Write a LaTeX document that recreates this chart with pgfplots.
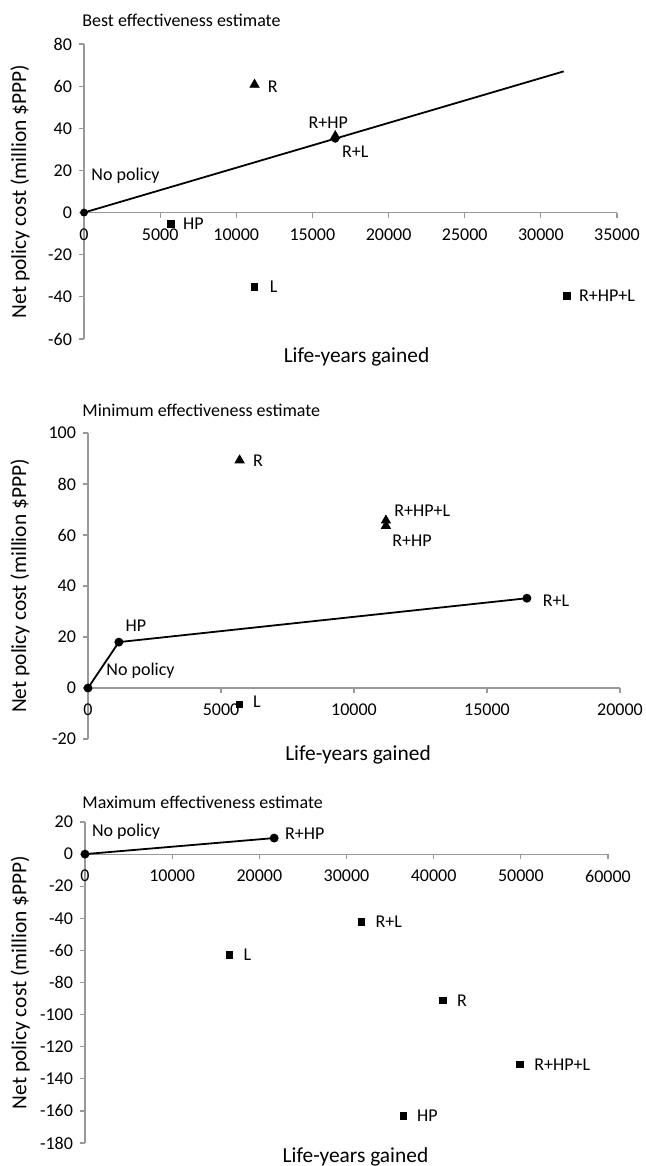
\documentclass[border=0pt]{standalone}
\usepackage{fontspec}
\setmainfont{Carlito}
\usepackage{pgfplots}
\pgfplotsset{compat=1.18}
\definecolor{axgray}{HTML}{999999}
\pgfplotsset{
  ceastyle/.style={
    scale only axis,
    axis lines=middle,
    axis line style={-, draw=axgray, line width=0.6pt},
    every tick/.style={draw=axgray, line width=0.6pt},
    tick align=outside,
    major tick length=2.5pt,
    hide obscured x ticks=false,
    hide obscured y ticks=false,
    scaled x ticks=false, scaled y ticks=false,
    /pgf/number format/assume math mode=true,
    /pgf/number format/set thousands separator={},
    tick label style={font=\fontsize{9}{11}\selectfont, text=black},
    xticklabel style={yshift=-2pt},
    xlabel style={font=\fontsize{10.7}{13}\selectfont, at={(axis description cs:0.5,0)}, anchor=center},
    ylabel style={font=\fontsize{10.7}{13}\selectfont, rotate=90, anchor=center},
    every axis title/.style={font=\fontsize{9}{11}\selectfont, at={(axis description cs:0,1)}, anchor=west, inner sep=0pt},
    clip=false,
    xlabel={Life-years gained},
    ylabel={Net policy cost (million \$PPP)},
  },
  circ/.style={only marks, mark=*, mark size=1.75pt, black},
  tri/.style={only marks, mark=triangle*, mark size=2.6pt, black},
  sq/.style={only marks, mark=square*, mark size=1.6pt, black},
  front/.style={black, line width=0.9pt, mark=*, mark size=1.75pt},
}
\tikzset{lab/.style={font=\fontsize{9}{11}\selectfont, inner sep=0pt, text=black}}
\begin{document}
\begin{tikzpicture}
\path[use as bounding box] (0,0) rectangle (323pt,-583pt);

% ---------- Panel 1: Best effectiveness estimate ----------
\begin{axis}[ceastyle,
  at={(42pt,-169.5pt)}, anchor=south west,
  width=266.5pt, height=147.5pt,
  xmin=0, xmax=35000, ymin=-60, ymax=80,
  xtick={0,5000,...,35000}, ytick={-60,-40,...,80},
  title={Best effectiveness estimate},
  title style={yshift=12pt, xshift=-1pt},
  xlabel style={yshift=-9pt, xshift=3pt},
  ylabel style={at={(axis description cs:-0.12,0.5)}},
]
\addplot[black, line width=0.9pt, mark=none] coordinates {(0,0) (31500,67)};
\addplot[circ] coordinates {(0,0) (16500,35)};
\addplot[tri] coordinates {(11200,60.7) (16500,36.3)};
\addplot[sq] coordinates {(5700,-5.4) (11200,-35.2) (31700,-39.5)};
\node[lab, anchor=west, xshift=3.5pt, yshift=18.5pt] at (axis cs:0,0) {No policy};
\node[lab, anchor=west, xshift=6.5pt, yshift=-1pt] at (axis cs:11200,60.7) {R};
\node[lab, anchor=center, xshift=-3.5pt, yshift=6.5pt] at (axis cs:16500,36.3) {R+HP};
\node[lab, anchor=center, xshift=10pt, yshift=-6.3pt] at (axis cs:16500,35) {R+L};
\node[lab, anchor=west, xshift=6pt] at (axis cs:5700,-5.4) {HP};
\node[lab, anchor=west, xshift=7.5pt] at (axis cs:11200,-35.2) {L};
\node[lab, anchor=west, xshift=6pt] at (axis cs:31700,-39.5) {R+HP+L};
\end{axis}

% ---------- Panel 2: Minimum effectiveness estimate ----------
\begin{axis}[ceastyle,
  at={(44pt,-369.5pt)}, anchor=south west,
  width=266pt, height=153pt,
  xmin=0, xmax=20000, ymin=-20, ymax=100,
  xtick={0,5000,...,20000}, ytick={-20,0,...,100},
  title={Minimum effectiveness estimate},
  title style={yshift=11.5pt, xshift=-3pt},
  xlabel style={yshift=-8pt, xshift=2pt},
  ylabel style={at={(axis description cs:-0.128,0.5)}},
]
\addplot[front] coordinates {(0,0) (1160,18) (16500,35.2)};
\addplot[tri] coordinates {(5700,89.3) (11200,65.7) (11200,63.6)};
\addplot[sq] coordinates {(5700,-6.4)};
\node[lab, anchor=west, xshift=9pt, yshift=8.5pt] at (axis cs:0,0) {No policy};
\node[lab, anchor=center, xshift=8.5pt, yshift=8pt] at (axis cs:1160,18) {HP};
\node[lab, anchor=west, xshift=7.75pt, yshift=-1.25pt] at (axis cs:16500,35.2) {R+L};
\node[lab, anchor=west, xshift=6.5pt] at (axis cs:5700,89.3) {R};
\node[lab, anchor=west, xshift=4pt, yshift=4.75pt] at (axis cs:11200,65.7) {R+HP+L};
\node[lab, anchor=west, xshift=3pt, yshift=-7.5pt] at (axis cs:11200,63.6) {R+HP};
\node[lab, anchor=west, xshift=6.5pt, yshift=1.3pt] at (axis cs:5700,-6.4) {L};
\end{axis}

% ---------- Panel 3: Maximum effectiveness estimate ----------
\begin{axis}[ceastyle,
  at={(42.5pt,-571.5pt)}, anchor=south west,
  width=261.5pt, height=160.5pt,
  xmin=0, xmax=60000, ymin=-180, ymax=20,
  xtick={0,10000,...,60000}, ytick={-180,-160,...,20},
  title={Maximum effectiveness estimate},
  title style={yshift=10pt, xshift=-1.5pt},
  xlabel style={yshift=-7pt, xshift=4.5pt},
  ylabel style={at={(axis description cs:-0.124,0.5)}},
]
\addplot[front] coordinates {(0,0) (21700,10)};
\addplot[sq] coordinates {(16600,-62.7) (31700,-42.3) (41050,-91.2) (49900,-131) (36500,-163)};
\node[lab, anchor=west, xshift=3.3pt, yshift=11.3pt] at (axis cs:0,0) {No policy};
\node[lab, anchor=west, xshift=5.25pt, yshift=2pt] at (axis cs:21700,10) {R+HP};
\node[lab, anchor=west, xshift=7pt] at (axis cs:31700,-42.3) {R+L};
\node[lab, anchor=west, xshift=6.8pt] at (axis cs:16600,-62.7) {L};
\node[lab, anchor=west, xshift=7pt] at (axis cs:41050,-91.2) {R};
\node[lab, anchor=west, xshift=7pt] at (axis cs:49900,-131) {R+HP+L};
\node[lab, anchor=west, xshift=6.8pt] at (axis cs:36500,-163) {HP};
\end{axis}
\end{tikzpicture}
\end{document}
